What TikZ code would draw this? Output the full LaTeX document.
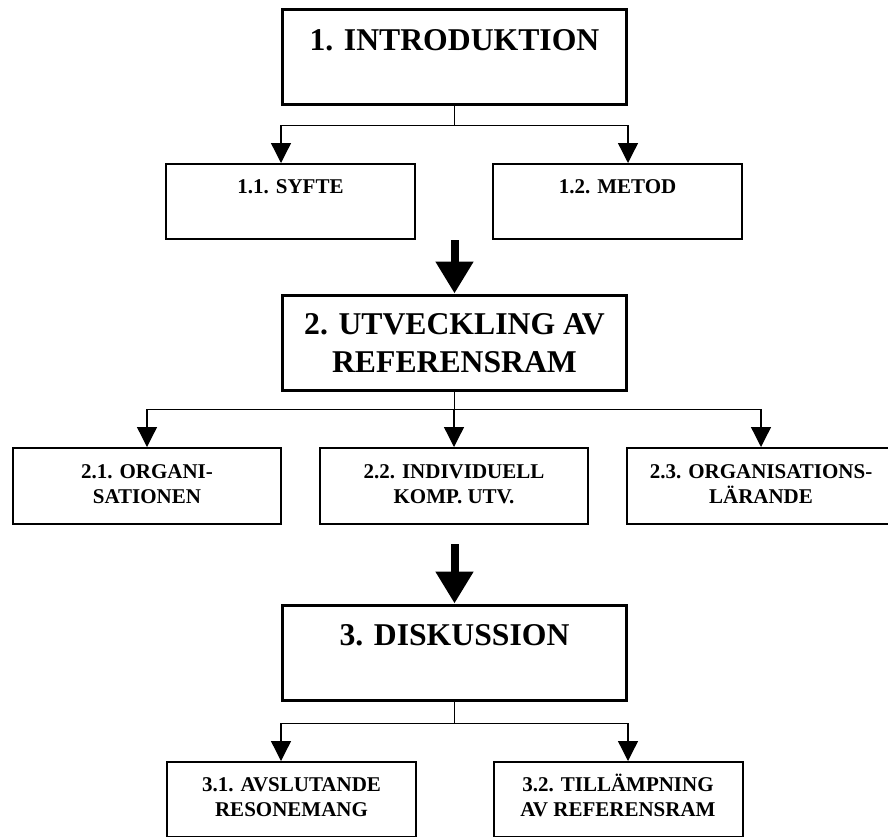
\documentclass[tikz,border=0pt]{standalone}
\usepackage{fontspec}
\setmainfont{Liberation Serif}
\usetikzlibrary{arrows.meta,positioning}

\tikzset{
  storruta/.style={draw,line width=3pt,minimum width=344pt,minimum height=95pt,inner sep=0pt},
  liten/.style={draw,line width=2pt,minimum width=249pt,minimum height=75pt,inner sep=0pt},
  mellan/.style={liten,minimum width=268pt,minimum height=76pt},
  stortext/.style={anchor=base,inner sep=0pt,align=center,font=\bfseries\fontsize{31.7}{38}\selectfont},
  litentext/.style={anchor=base,inner sep=0pt,align=center,font=\bfseries\fontsize{21}{25}\selectfont},
  pil/.style={line width=1.3pt,-{Triangle[width=20pt,length=20pt]}},
  tjockpil/.style={line width=8pt,-{Triangle[width=36pt,length=32pt]}}
}

\begin{document}
\begin{tikzpicture}[x=1pt,y=-1pt]
  \useasboundingbox (0,0) rectangle (888,836);

  % kapitel 1
  \node[storruta] (intro) at (454.5,57) {};
  \node[stortext] (introT) at ([yshift=-42.5pt]intro.north) {1. INTRODUKTION};
  \node[liten] (syfte) at (290.5,201.5) {};
  \node[litentext] (syfteT) at ([yshift=-30.5pt]syfte.north) {1.1. SYFTE};
  \node[liten] (metod) at (617.5,201.5) {};
  \node[litentext] (metodT) at ([yshift=-30.5pt]metod.north) {1.2. METOD};
  \draw[line width=1.3pt] (intro.south) -- ++(0,19.5) coordinate (j1);
  \draw[pil] (j1) -| (intro.south west |- syfte.north);
  \draw[pil] (j1) -| (intro.south east |- metod.north);

  % kapitel 2 (base = sista raden)
  \node[storruta] (utv) at (454.5,342.5) {};
  \node[stortext] (utvT) at ([yshift=-78.5pt]utv.north) {2. UTVECKLING AV\\REFERENSRAM};
  \coordinate (gap1) at (454.5,240);
  \draw[tjockpil] (gap1) -- (utv.north);
  \node[mellan] (org) at (147,486) {};
  \node[litentext] (orgT) at ([yshift=-56pt]org.north) {2.1. ORGANI-\\SATIONEN};
  \node[mellan] (ind) at (454,486) {};
  \node[litentext] (indT) at ([yshift=-56pt]ind.north) {2.2. INDIVIDUELL\\KOMP. UTV.};
  \node[mellan] (lar) at (761,486) {};
  \node[litentext] (larT) at ([yshift=-56pt]lar.north) {2.3. ORGANISATIONS-\\LÄRANDE};
  \draw[line width=1.3pt] (utv.south) -- ++(0,18) coordinate (j2);
  \draw[pil] (j2) -| (org.north);
  \draw[pil] (j2) -| (ind.north);
  \draw[pil] (j2) -| (lar.north);

  % kapitel 3
  \node[storruta] (disk) at (454.5,652.5) {};
  \node[stortext] (diskT) at ([yshift=-42pt]disk.north) {3. DISKUSSION};
  \coordinate (gap2) at (454.5,544);
  \draw[tjockpil] (gap2) -- (disk.north);
  \node[liten] (avsl) at (291.5,799.5) {};
  \node[litentext] (avslT) at ([yshift=-55.5pt]avsl.north) {3.1. AVSLUTANDE\\RESONEMANG};
  \node[liten] (till) at (618,799.5) {};
  \node[litentext] (tillT) at ([yshift=-55.5pt]till.north) {3.2. TILLÄMPNING\\AV REFERENSRAM};
  \draw[line width=1.3pt] (disk.south) -- ++(0,22) coordinate (j3);
  \draw[pil] (j3) -| (disk.south west |- avsl.north);
  \draw[pil] (j3) -| (disk.south east |- till.north);
\end{tikzpicture}
\end{document}
